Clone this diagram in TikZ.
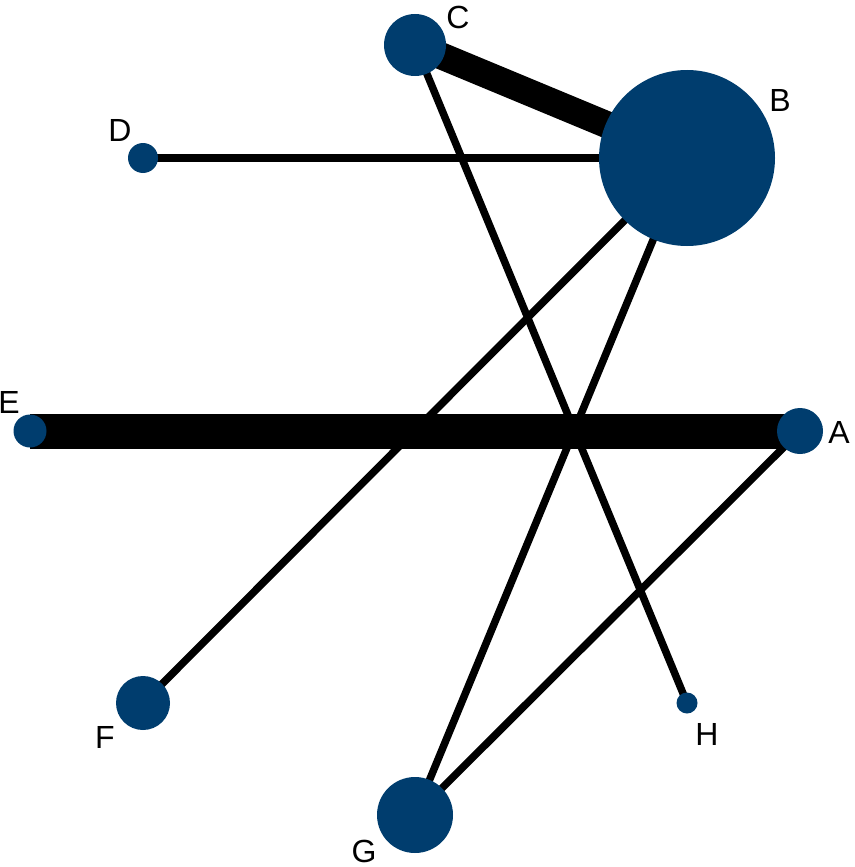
\documentclass[tikz,border=0pt]{standalone}
\usepackage{fontspec}
\setmainfont{Liberation Sans}
\definecolor{nodeblue}{RGB}{0,61,110}
\begin{document}
\begin{tikzpicture}[x=1pt,y=-1pt,
  pt/.style={circle,fill=nodeblue,inner sep=0pt,minimum size=#1},
  lab/.style={inner sep=0pt,font=\fontsize{32}{38}\selectfont},
  edge/.style={draw=black,line width=#1}]
\useasboundingbox (0,0) rectangle (854,867);
% node positions
\coordinate (pA) at (800,431);
\coordinate (pB) at (687,158);
\coordinate (pC) at (415,45);
\coordinate (pD) at (143,158);
\coordinate (pE) at (30,431);
\coordinate (pF) at (143,703);
\coordinate (pG) at (415,815);
\coordinate (pH) at (687,703);
% edges
\draw[edge=35] (pE) -- (pA);
\draw[edge=27] (pC) -- (pB);
\draw[edge=7.5] (pD) -- (pB);
\draw[edge=7.5] (pC) -- (pH);
\draw[edge=7.5] (pB) -- (pF);
\draw[edge=7.5] (pB) -- (pG);
\draw[edge=7.5] (pA) -- (pG);
% nodes
\node[pt=46] (A) at (pA) {};
\node[pt=176] (B) at (pB) {};
\node[pt=62] (C) at (pC) {};
\node[pt=30] (D) at (pD) {};
\node[pt=33] (E) at (pE) {};
\node[pt=54] (F) at (pF) {};
\node[pt=76] (G) at (pG) {};
\node[pt=21] (H) at (pH) {};
% labels
\node[lab] (lA) at (839,432) {A};
\node[lab] (lB) at (780,100) {B};
\node[lab] (lC) at (458,17) {C};
\node[lab] (lD) at (120,130) {D};
\node[lab] (lE) at (9,402) {E};
\node[lab] (lF) at (105,737) {F};
\node[lab] (lG) at (364,851) {G};
\node[lab] (lH) at (707,734) {H};
\end{tikzpicture}
\end{document}
